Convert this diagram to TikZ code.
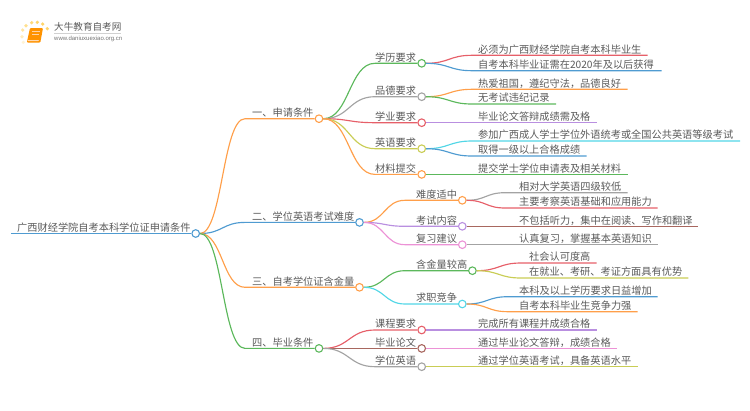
\documentclass[tikz,border=0pt]{standalone}
\usepackage{fontspec}
\usetikzlibrary{calc}
\newfontfamily\cjk{Noto Sans CJK SC}
\newfontfamily\lat{Liberation Sans}
\definecolor{txt}{HTML}{5A5A5A}
\definecolor{cgreen}{HTML}{5CB85C}
\definecolor{corange}{HTML}{FF9F4A}
\definecolor{cblue}{HTML}{4F9BD1}
\definecolor{cred}{HTML}{E65F69}
\definecolor{cgray}{HTML}{A3A3A3}
\definecolor{cpurple}{HTML}{B98FE0}
\definecolor{cpink}{HTML}{EC92D6}
\definecolor{ccyan}{HTML}{52D6E6}
\definecolor{cyellow}{HTML}{C9CD55}
\definecolor{cbrown}{HTML}{A8675F}
\tikzset{
  lab/.style={anchor=base west,inner sep=0pt,text=txt,font=\cjk\fontsize{10.2}{12}\selectfont},
  hub/.style={circle,draw=#1,fill=white,line width=1.1pt,minimum size=7.6pt,inner sep=0pt},
  wire/.style={line width=1.15pt,draw=#1},
  sun/.style={circle,fill=#1,inner sep=0pt,minimum size=3.6pt}
}
\newcommand\conn[4]{\draw[wire=#1] let \p1=(#2.east),\p2=(#3) in (\p1) .. controls ({\x1+0.5*(#4pt-\x1)},\y1) and ({\x1+0.5*(#4pt-\x1)},\y2) .. (#4pt,\y2) -- (#3);}
\newcommand\hubnode[4]{\node[hub=#1] (#2) at (#3,#4) {};}
\newcommand\labnode[4]{\node[lab] (#1) at (#2,#3-2.3) {#4};}
\newcommand\leafnode[6]{\coordinate (#1e) at (#4,#3); \node[lab] (#1) at (#2,#3-2.3) {#6}; \conn{#5}{\leafparent}{#1e}{\leafx}}
\begin{document}
\begin{tikzpicture}[x=1pt,y=-1pt]
\useasboundingbox (0,0) rectangle (750,410);
% logo
\foreach \nm/\a/\b/\c in {d1/37.3/22.3/FFD56B,d2/31.7/22.7/FFD97A,d3/42.7/24/FFD56B,d4/47.3/28.7/FFD56B,d5/26/25.7/FFE08F,d6/22.7/30/FFE5A3,d7/22/36.7/FFEDC0,d8/23.3/42.3/FFF3D6}{
  \definecolor{tmpc}{HTML}{\c}\node[sun=tmpc] (\nm) at (\a,\b) {};}
\fill[rounded corners=1pt,fill=orange!85!yellow] (30,28) -- (43,28) -- (40.3,42.6) -- (26.8,42.6) -- cycle;
\fill[rounded corners=.5pt,fill=white!70!orange] (27.5,40) -- (39,40) -- (38.6,41.2) -- (27.5,41.2) -- cycle;
\fill[fill=white!65!orange] (32,30.5) rectangle (40,32.3);
\fill[fill=white!65!orange] (31.5,33.5) rectangle (39,34.7);
\node[anchor=base west,inner sep=0pt,text=txt,font=\cjk\fontsize{9.6}{11}\selectfont] (logotext) at (54,30.4) {大牛教育自考网};
\coordinate (ruleA) at (54,33.4); \coordinate (ruleB) at (121,33.4);
\draw[line width=.6pt,black!18] (ruleA) -- (ruleB);
\node[anchor=base west,inner sep=0pt,text=black!55,font=\lat\fontsize{6}{7}\selectfont] (logourl) at (54,40.8) {www.daniuxuexiao.org.cn};
% root
\coordinate (rootS) at (11,233.5);
\hubnode{cblue}{root}{195.7}{233.5}
\node[lab] (roott) at (17,231.2) {广西财经学院自考本科学位证申请条件};
\draw[wire=cblue,line width=1.3pt] (rootS) -- (root);
% level 1
\hubnode{corange}{a}{319}{118.7}
\hubnode{cblue}{b}{359.5}{222.4}
\hubnode{corange}{c}{359.5}{287.3}
\hubnode{cgreen}{d}{319}{348.4}
\labnode{at}{252}{118.7}{一、申请条件}
\labnode{bt}{252}{222.4}{二、学位英语考试难度}
\labnode{ct}{252}{287.3}{三、自考学位证含金量}
\labnode{dt}{252}{348.4}{四、毕业条件}
\conn{corange}{root}{a}{245}
\conn{cblue}{root}{b}{245}
\conn{corange}{root}{c}{245}
\conn{cgreen}{root}{d}{245}
% level 2
\hubnode{cgreen}{a1}{421.7}{63.3}
\hubnode{cgray}{a2}{421.7}{96.7}
\hubnode{cred}{a3}{421.7}{122.7}
\hubnode{cyellow}{a4}{421.7}{148.7}
\hubnode{corange}{a5}{421.7}{174.4}
\labnode{a1t}{375}{63.3}{学历要求}
\labnode{a2t}{375}{96.7}{品德要求}
\labnode{a3t}{375}{122.7}{学业要求}
\labnode{a4t}{375}{148.7}{英语要求}
\labnode{a5t}{375}{174.4}{材料提交}
\conn{cgreen}{a}{a1}{375}
\conn{cgray}{a}{a2}{375}
\conn{cred}{a}{a3}{375}
\conn{cyellow}{a}{a4}{375}
\conn{corange}{a}{a5}{375}
\hubnode{corange}{b1}{462.3}{200.3}
\hubnode{cpurple}{b2}{462.3}{226.3}
\hubnode{cpink}{b3}{462.3}{244.7}
\labnode{b1t}{416}{200.3}{难度适中}
\labnode{b2t}{416}{226.3}{考试内容}
\labnode{b3t}{416}{244.7}{复习建议}
\conn{corange}{b}{b1}{405}
\conn{cpurple}{b}{b2}{405}
\conn{cpink}{b}{b3}{405}
\hubnode{cgreen}{c1}{472.4}{270.7}
\hubnode{ccyan}{c2}{462.3}{304}
\labnode{c1t}{416}{270.7}{含金量较高}
\labnode{c2t}{416}{304}{求职竞争}
\conn{cgreen}{c}{c1}{405}
\conn{ccyan}{c}{c2}{405}
\hubnode{cred}{d1}{421.7}{330}
\hubnode{cbrown}{d2}{421.7}{348.4}
\hubnode{cgray}{d3}{421.7}{366.7}
\labnode{d1t}{375}{330}{课程要求}
\labnode{d2t}{375}{348.4}{毕业论文}
\labnode{d3t}{375}{366.7}{学位英语}
\conn{cred}{d}{d1}{375}
\conn{cbrown}{d}{d2}{375}
\conn{cgray}{d}{d3}{375}
% leaves
\def\leafx{472}
\def\leafparent{a1}
\leafnode{l1}{478}{55.3}{647.7}{cred}{必须为广西财经学院自考本科毕业生}
\leafnode{l2}{478}{70.7}{661.7}{cblue}{自考本科毕业证需在2020年及以后获得}
\def\leafparent{a2}
\leafnode{l3}{478}{89.3}{627.7}{corange}{热爱祖国，遵纪守法，品德良好}
\leafnode{l4}{478}{104}{556}{cgreen}{无考试违纪记录}
\def\leafparent{a3}
\leafnode{l5}{478}{122.7}{596.7}{cpurple}{毕业论文答辩成绩需及格}
\def\leafparent{a4}
\leafnode{l6}{478}{141}{740}{ccyan}{参加广西成人学士学位外语统考或全国公共英语等级考试}
\leafnode{l7}{478}{156}{586.7}{cblue}{取得一级以上合格成绩}
\def\leafparent{a5}
\leafnode{l8}{478}{174.4}{627.7}{cgreen}{提交学士学位申请表及相关材料}
\def\leafx{505}
\def\leafparent{b1}
\leafnode{l9}{519}{192.7}{627.7}{cgray}{相对大学英语四级较低}
\leafnode{l10}{519}{208}{657.7}{cred}{主要考察英语基础和应用能力}
\def\leafparent{b2}
\leafnode{l11}{519}{226.3}{698.3}{cbrown}{不包括听力，集中在阅读、写作和翻译}
\def\leafparent{b3}
\leafnode{l12}{519}{244.7}{657.7}{cgray}{认真复习，掌握基本英语知识}
\def\leafx{521}
\def\leafparent{c1}
\leafnode{l13}{529}{263}{596.7}{cred}{社会认可度高}
\leafnode{l14}{529}{278}{688.3}{cyellow}{在就业、考研、考证方面具有优势}
\def\leafx{508}
\def\leafparent{c2}
\leafnode{l15}{519}{296.7}{657.7}{cblue}{本科及以上学历要求日益增加}
\leafnode{l16}{519}{311.7}{637.7}{corange}{自考本科毕业生竞争力强}
\def\leafx{472}
\def\leafparent{d1}
\leafnode{l17}{478}{330}{596.7}{cpurple}{完成所有课程并成绩合格}
\def\leafparent{d2}
\leafnode{l18}{478}{348.4}{617}{cpink}{通过毕业论文答辩，成绩合格}
\def\leafparent{d3}
\leafnode{l19}{478}{366.7}{637.7}{cyellow}{通过学位英语考试，具备英语水平}
\end{tikzpicture}
\end{document}
